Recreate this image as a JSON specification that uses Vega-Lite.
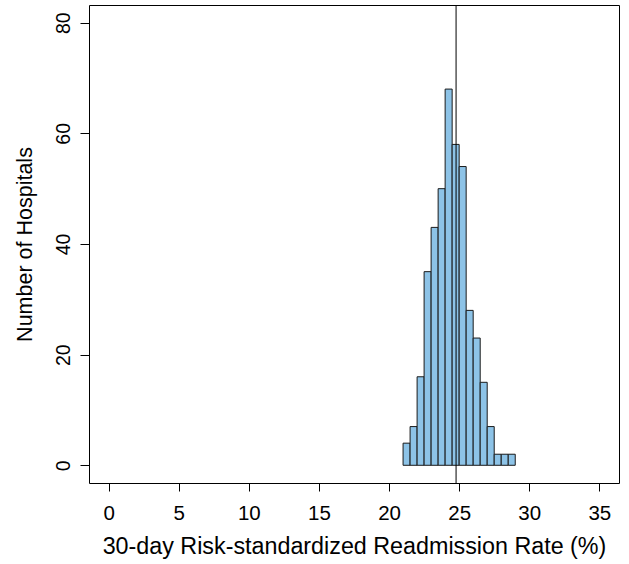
{
  "$schema": "https://vega.github.io/schema/vega-lite/v6.json",
  "width": 530,
  "height": 478,
  "autosize": "none",
  "padding": {"left": 89, "top": 5, "right": 10, "bottom": 81},
  "background": "white",
  "config": {
    "view": {"stroke": "black", "strokeWidth": 1},
    "font": "Liberation Sans",
    "axis": {
      "grid": false,
      "domain": false,
      "tickColor": "black",
      "labelColor": "black",
      "labelFont": "Liberation Sans",
      "titleFont": "Liberation Sans",
      "titleFontWeight": "normal",
      "titleColor": "black"
    }
  },
  "data": {
    "values": [
      {"bin_start": 21.0, "bin_end": 21.5, "count": 4},
      {"bin_start": 21.5, "bin_end": 22.0, "count": 7},
      {"bin_start": 22.0, "bin_end": 22.5, "count": 16},
      {"bin_start": 22.5, "bin_end": 23.0, "count": 35},
      {"bin_start": 23.0, "bin_end": 23.5, "count": 43},
      {"bin_start": 23.5, "bin_end": 24.0, "count": 50},
      {"bin_start": 24.0, "bin_end": 24.5, "count": 68},
      {"bin_start": 24.5, "bin_end": 25.0, "count": 58},
      {"bin_start": 25.0, "bin_end": 25.5, "count": 54},
      {"bin_start": 25.5, "bin_end": 26.0, "count": 28},
      {"bin_start": 26.0, "bin_end": 26.5, "count": 23},
      {"bin_start": 26.5, "bin_end": 27.0, "count": 15},
      {"bin_start": 27.0, "bin_end": 27.5, "count": 7},
      {"bin_start": 27.5, "bin_end": 28.0, "count": 2},
      {"bin_start": 28.0, "bin_end": 28.5, "count": 2},
      {"bin_start": 28.5, "bin_end": 29.0, "count": 2}
    ]
  },
  "layer": [
    {
      "mark": {"type": "bar", "fill": "#8DC3E7", "stroke": "#1a1a1a", "strokeWidth": 1, "clip": true},
      "encoding": {
        "x": {
          "field": "bin_start",
          "type": "quantitative",
          "scale": {"domain": [-1.4, 36.4], "nice": false, "zero": false},
          "axis": {"values": [0, 5, 10, 15, 20, 25, 30, 35], "title": "30-day Risk-standardized Readmission Rate (%)", "tickSize": 8, "labelFontSize": 20.5, "titleFontSize": 23.3, "labelPadding": 12, "titlePadding": 12}
        },
        "x2": {"field": "bin_end"},
        "y": {
          "field": "count",
          "type": "quantitative",
          "scale": {"domain": [-3.2, 83.2], "nice": false, "zero": false},
          "axis": {"values": [0, 20, 40, 60, 80], "title": "Number of Hospitals", "tickSize": 9, "labelFontSize": 19.5, "titleFontSize": 21.5, "labelAngle": -90, "labelAlign": "center", "labelBaseline": "bottom", "labelPadding": 7, "titlePadding": 17}
        },
        "y2": {"datum": 0}
      }
    },
    {
      "data": {"values": [{"mean": 24.78}]},
      "mark": {"type": "rule", "color": "black", "strokeWidth": 1},
      "encoding": {
        "x": {"field": "mean", "type": "quantitative"}
      }
    }
  ]
}
